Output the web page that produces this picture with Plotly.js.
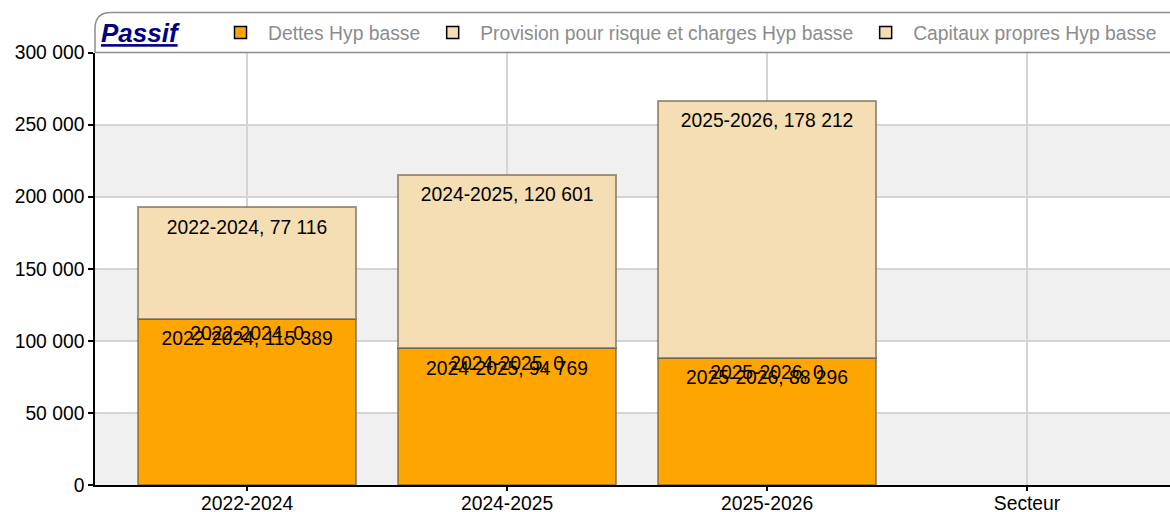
<!DOCTYPE html>
<html>
<head>
<meta charset="utf-8">
<script src="https://cdn.plot.ly/plotly-3.0.1.min.js"></script>
<style>html,body{margin:0;padding:0;background:#fff}#chart{width:1170px;height:512px}</style>
</head>
<body>
<div id="chart"></div>
<script>
const categories = ['2022-2024', '2024-2025', '2025-2026', 'Secteur'];
const dettes = [115389, 94769, 88296, null];
const provisions = [0, 0, 0, null];
const capitaux = [77116, 120601, 178212, null];
const seriesNames = ['Dettes Hyp basse', 'Provision pour risque et charges Hyp basse', 'Capitaux propres Hyp basse'];
const seriesColors = ['#FFA500', '#F5DEB3', '#F5DEB3'];
const yTicks = [0, 50000, 100000, 150000, 200000, 250000, 300000];
const yTickLabels = ['0', '50 000', '100 000', '150 000', '200 000', '250 000', '300 000'];

const font = 'Liberation Sans, Arial, sans-serif';
const FS = 19.3;
const outline = {color: 'rgba(110,100,80,0.65)', width: 2};

function barTrace(vals, name, color) {
  return {type: 'bar', x: categories, y: vals, name: name, width: 0.84, showlegend: false,
    legendgroup: name, marker: {color: color, line: outline}, hoverinfo: 'x+y+name'};
}
// legend entries (no data drawn) with black swatch border
function legendTrace(name, color) {
  return {type: 'bar', x: [categories[0]], y: [null], name: name, legendgroup: name,
    marker: {color: color, line: {color: '#000', width: 1.5}}, hoverinfo: 'skip'};
}

const data = [
  barTrace(dettes, seriesNames[0], seriesColors[0]),
  barTrace(provisions, seriesNames[1], seriesColors[1]),
  barTrace(capitaux, seriesNames[2], seriesColors[2]),
  legendTrace(seriesNames[0], seriesColors[0]),
  legendTrace(seriesNames[1], seriesColors[1]),
  legendTrace(seriesNames[2], seriesColors[2])
];

// label positions computed from the data (tops of the stacked segments)
function fmt(v) { return Math.round(v).toString().replace(/\B(?=(\d{3})+(?!\d))/g, ' '); }
const n = categories.length;
const lvl1 = [], lvl2 = [], lvl3 = [], t1 = [], t2 = [], t3 = [];
for (let i = 0; i < n; i++) {
  if (dettes[i] === null) { lvl1.push(null); lvl2.push(null); lvl3.push(null); t1.push(''); t2.push(''); t3.push(''); continue; }
  lvl1.push(dettes[i]);
  lvl2.push(dettes[i] + provisions[i]);
  lvl3.push(dettes[i] + provisions[i] + capitaux[i]);
  t1.push(categories[i] + ', ' + fmt(dettes[i]));
  t2.push(categories[i] + ', ' + fmt(provisions[i]));
  t3.push(categories[i] + ', ' + fmt(capitaux[i]));
}
function labelTrace(ys, texts, msize) {
  return {type: 'scatter', mode: 'markers+text', x: categories, y: ys, text: texts,
    textposition: 'bottom center', marker: {size: msize, opacity: 0},
    textfont: {family: font, size: FS, color: '#000'}, showlegend: false, hoverinfo: 'skip', cliponaxis: false};
}
data.push(labelTrace(lvl1, t1, 18));
data.push(labelTrace(lvl2, t2, 10));
data.push(labelTrace(lvl3, t3, 18));

const shapes = [];
for (let b = 0; b < 300000; b += 100000) {
  shapes.push({type: 'rect', xref: 'paper', yref: 'y', x0: 0, x1: 1, y0: b, y1: b + 50000,
    fillcolor: '#f0f0f0', line: {width: 0}, layer: 'below'});
}
// rounded legend frame (plot area spans x 95..1170, y 52..485 px)
const px = x => (x - 95) / 1075, py = y => (485 - y) / 433;
shapes.push({type: 'path', xref: 'paper', yref: 'paper',
  path: `M ${px(95)} ${py(52)} L ${px(95)} ${py(28)} Q ${px(95)} ${py(12)} ${px(111)} ${py(12)} L ${px(1180)} ${py(12)}`,
  line: {color: '#8c8c8c', width: 1.5}, layer: 'above'});
shapes.push({type: 'line', xref: 'paper', yref: 'paper', x0: 0, x1: 1.01, y0: 1, y1: 1,
  line: {color: '#8c8c8c', width: 1.5}, layer: 'above'});

const W = 1170, H = 512;
const layout = {
  width: W, height: H,
  margin: {l: 95, r: 0, t: 52, b: 27},
  paper_bgcolor: '#fff', plot_bgcolor: '#fff',
  barmode: 'stack',
  font: {family: font, size: FS, color: '#000'},
  title: {text: '<b><i><u>Passif</u></i></b>', x: 101 / W, xanchor: 'left', xref: 'container',
    y: 1 - 33 / H, yanchor: 'middle', yref: 'container', font: {family: font, size: 26, color: '#000080'}},
  showlegend: true,
  legend: {orientation: 'h', x: 213 / W, xref: 'container', xanchor: 'left', y: 1 - 33 / H, yanchor: 'middle', yref: 'container',
    itemwidth: 45, font: {family: font, size: FS, color: '#8c8c8c'}, bgcolor: 'rgba(0,0,0,0)',
    itemclick: false, itemdoubleclick: false, traceorder: 'normal'},
  xaxis: {type: 'category', categoryarray: categories, range: [-0.585, 3.55],
    showgrid: true, gridcolor: '#d4d4d4', gridwidth: 1.5,
    showline: true, linecolor: '#000', linewidth: 1.5,
    ticks: 'outside', ticklen: 4, tickcolor: '#000', tickwidth: 1.5, ticklabelstandoff: -4,
    tickfont: {family: font, size: FS, color: '#000'}, fixedrange: true},
  yaxis: {range: [0, 300000], tickvals: yTicks, ticktext: yTickLabels,
    showgrid: true, gridcolor: '#d4d4d4', gridwidth: 1.5, zeroline: false,
    showline: true, linecolor: '#000', linewidth: 1.5,
    ticks: 'outside', ticklen: 5, tickcolor: '#000', tickwidth: 1.5,
    tickfont: {family: font, size: FS, color: '#000'}, fixedrange: true},
  shapes: shapes,
  hovermode: 'closest'
};

Plotly.newPlot('chart', data, layout, {displayModeBar: false});
</script>
</body>
</html>
